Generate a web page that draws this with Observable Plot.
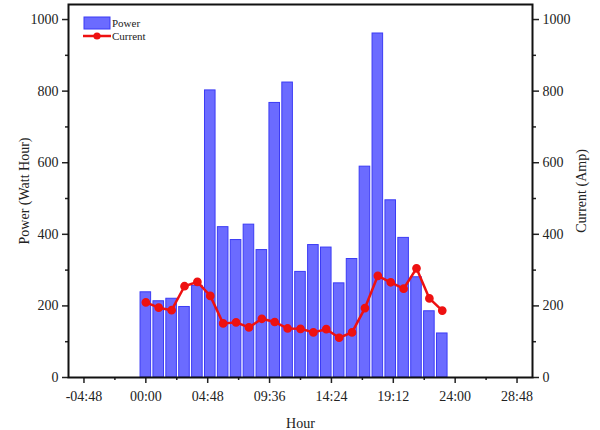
<!DOCTYPE html>
<html>
<head>
<meta charset="utf-8">
<script src="https://cdn.jsdelivr.net/npm/d3@7"></script>
<script src="https://cdn.jsdelivr.net/npm/@observablehq/plot@0.6"></script>
<style>
  html, body { margin: 0; padding: 0; background: #fff; }
  #chart { width: 600px; height: 430px; }
  svg { font-family: "Liberation Serif", "DejaVu Serif", serif; }
</style>
</head>
<body>
<div id="chart"></div>
<script>
const hours = [0,1,2,3,4,5,6,7,8,9,10,11,12,13,14,15,16,17,18,19,20,21,22,23];
const power = [238,213,220,197,256,802,420,384,427,356,767,824,295,370,363,263,331,589,961,495,390,280,185,123];
const current = [210,195,188,255,267,228,151,154,140,164,155,137,136,126,135,111,126,194,284,266,248,305,221,187];
const xTicks = [-4.8, 0, 4.8, 9.6, 14.4, 19.2, 24, 28.8];
const xMinor = [-2.4, 2.4, 7.2, 12, 16.8, 21.6, 26.4];
const yTicks = [0, 200, 400, 600, 800, 1000];
const yMinor = [100, 300, 500, 700, 900];

const data = hours.map((h, i) => ({h, power: power[i], current: current[i]}));

function fmt(v) {
  const neg = v < 0;
  const a = Math.abs(v);
  let hh = Math.floor(a + 1e-9);
  let mm = Math.round((a - hh) * 60);
  if (mm === 60) { hh += 1; mm = 0; }
  return (neg ? "-" : "") + String(hh).padStart(2, "0") + ":" + String(mm).padStart(2, "0");
}
const yfmt = d3.format("d");

const barFill = "#6b6bff";
const barStroke = "#3b3bf5";
const red = "#ee1111";
const ink = "#222";

const plot = Plot.plot({
  width: 600,
  height: 430,
  marginLeft: 68,
  marginRight: 68,
  marginTop: 4,
  marginBottom: 53,
  style: {fontFamily: "Liberation Serif, serif", fontSize: "14px", color: ink, background: "#fff"},
  x: {domain: [-6, 30]},
  y: {domain: [0, 1042]},
  marks: [
    Plot.rect(data, {x1: d => d.h - 0.41, x2: d => d.h + 0.41, y1: 0, y2: "power", fill: barFill, stroke: barStroke, strokeWidth: 1}),
    Plot.line(data, {x: "h", y: "current", stroke: red, strokeWidth: 2.5}),
    Plot.dot(data, {x: "h", y: "current", r: 3.6, fill: red, stroke: red}),
    Plot.axisX({ticks: xTicks, tickFormat: fmt, tickSize: 6, tickPadding: 8, strokeWidth: 1.5, label: "Hour", labelAnchor: "center", labelOffset: 50, labelArrow: false, fontSize: 14}),
    Plot.axisX({ticks: xMinor, tickSize: 3, text: null, label: null, strokeWidth: 1.5}),
    Plot.axisY({ticks: yTicks, tickFormat: yfmt, tickSize: 6, tickPadding: 4, strokeWidth: 1.5, label: "Power (Watt Hour)", labelAnchor: "center", labelOffset: 49, labelArrow: false, fontSize: 14}),
    Plot.axisY({ticks: yMinor, tickSize: 3, text: null, label: null, strokeWidth: 1.5}),
    Plot.axisY({anchor: "right", ticks: yTicks, tickFormat: yfmt, tickSize: 6, tickPadding: 4, strokeWidth: 1.5, label: "Current (Amp)", labelAnchor: "center", labelOffset: 53, labelArrow: false, fontSize: 14}),
    Plot.axisY({anchor: "right", ticks: yMinor, tickSize: 3, text: null, label: null, strokeWidth: 1.5}),
    Plot.frame({stroke: "#111", strokeWidth: 2})
  ]
});

// legend drawn inside the frame, top-left
const svg = d3.select(plot);
const lg = svg.append("g").attr("font-family", "Liberation Serif, serif").attr("font-size", 11).attr("fill", ink).attr("text-anchor", "start");
lg.append("rect").attr("x", 84).attr("y", 17).attr("width", 26).attr("height", 12).attr("fill", barFill).attr("stroke", barStroke);
lg.append("text").attr("x", 112).attr("y", 23).attr("dy", "0.35em").attr("text-anchor", "start").style("font-size", "11px").text("Power");
lg.append("line").attr("x1", 83).attr("x2", 111).attr("y1", 36).attr("y2", 36).attr("stroke", red).attr("stroke-width", 2.5);
lg.append("circle").attr("cx", 97).attr("cy", 36).attr("r", 3.6).attr("fill", red);
lg.append("text").attr("x", 112).attr("y", 36).attr("dy", "0.35em").attr("text-anchor", "start").style("font-size", "11px").text("Current");

document.getElementById("chart").appendChild(plot);
</script>
</body>
</html>
